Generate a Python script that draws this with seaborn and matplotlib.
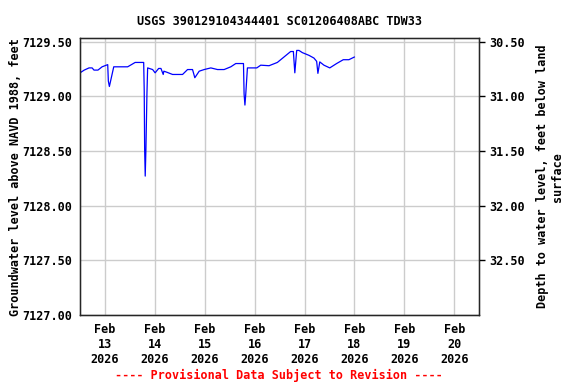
import pandas as pd
import matplotlib
matplotlib.use("Agg")
import matplotlib.pyplot as plt
import matplotlib.dates as mdates
import seaborn as sns

# Groundwater level readings, hours after 2026-02-13 00:00
hours = [-12.0, -10.0, -7.7, -6.2, -5.3, -3.4, -1.4, 1.3, 1.6, 2.1, 4.2,
         10.9, 14.5, 18.6, 18.86, 19.06, 19.34, 19.68, 20.16, 20.5,
         22.9, 24.1, 25.8, 26.9, 28.0, 28.3, 29.8, 32.5, 37.3, 39.7, 42.1,
         43.2, 45.3, 47.7, 50.9, 54.1, 57.3, 60.5, 62.9, 66.6, 66.9, 67.3,
         67.7, 68.5, 73.0, 74.9, 78.9, 82.9, 86.1, 89.3, 90.6, 91.3, 92.2,
         93.3, 94.9, 98.1, 100.5, 101.8, 102.4, 103.3, 105.3, 108.1, 111.4,
         114.6, 117.3, 120.0]
level = [7129.215, 7129.24, 7129.26, 7129.26, 7129.24, 7129.24, 7129.27,
         7129.29, 7129.14, 7129.09, 7129.27, 7129.27, 7129.31, 7129.31,
         7129.05, 7128.52, 7128.27, 7128.52, 7129.02, 7129.26,
         7129.245, 7129.215, 7129.255, 7129.255, 7129.20, 7129.23, 7129.22,
         7129.20, 7129.20, 7129.245, 7129.245, 7129.17, 7129.23, 7129.245,
         7129.26, 7129.245, 7129.245, 7129.27, 7129.30, 7129.30, 7129.02,
         7128.92, 7129.02, 7129.26, 7129.26, 7129.285, 7129.28, 7129.31,
         7129.36, 7129.41, 7129.41, 7129.215, 7129.42, 7129.42, 7129.40,
         7129.375, 7129.35, 7129.32, 7129.21, 7129.315, 7129.285, 7129.26,
         7129.30, 7129.335, 7129.335, 7129.36]

title = "USGS 390129104344401 SC01206408ABC TDW33"
land_surface = 7160.0  # elevation + depth

df = pd.DataFrame({
    "time": pd.Timestamp("2026-02-13") + pd.to_timedelta(hours, unit="h"),
    "level": level,
})

sns.set_style("white")
plt.rcParams["font.family"] = ["DejaVu Sans Mono"]
plt.rcParams["font.weight"] = "bold"
plt.rcParams["text.color"] = "black"
plt.rcParams["axes.labelcolor"] = "black"
plt.rcParams["xtick.color"] = "black"
plt.rcParams["ytick.color"] = "black"

fig = plt.figure(figsize=(5.76, 3.84), dpi=100)
ax = fig.add_axes([0.139, 0.18, 0.693, 0.72])

sns.lineplot(data=df, x="time", y="level", ax=ax, color="#0000ff", linewidth=0.9)

ax.set_xlim(pd.Timestamp("2026-02-12 12:00"), pd.Timestamp("2026-02-20 12:00"))
ax.set_ylim(7127.0, 7129.53)
ax.set_yticks([7127.0, 7127.5, 7128.0, 7128.5, 7129.0, 7129.5])
ax.yaxis.set_major_formatter(matplotlib.ticker.FormatStrFormatter("%.2f"))
ax.xaxis.set_major_locator(mdates.DayLocator())
ax.xaxis.set_major_formatter(mdates.DateFormatter("%b\n%d\n%Y"))
ax.grid(True, color="#cccccc", linewidth=1)
ax.tick_params(axis="both", length=0, labelsize=8.5, pad=6)
for lab in ax.get_xticklabels() + ax.get_yticklabels():
    lab.set_fontweight("bold")
for s in ax.spines.values():
    s.set_color("black")
    s.set_linewidth(1)

ax.set_xlabel("")
ax.set_ylabel("Groundwater level above NAVD 1988, feet", fontsize=8.5,
              fontweight="bold", labelpad=0)
ax.set_title(title, fontsize=8.5, fontweight="bold", pad=10)

# right axis: depth below land surface
ax2 = ax.twinx()
lo, hi = ax.get_ylim()
ax2.set_ylim(land_surface - lo, land_surface - hi)
ax2.set_yticks([30.5, 31.0, 31.5, 32.0, 32.5])
ax2.yaxis.set_major_formatter(matplotlib.ticker.FormatStrFormatter("%.2f"))
ax2.tick_params(axis="y", length=4, width=1, labelsize=8.5, pad=3)
for lab in ax2.get_yticklabels():
    lab.set_fontweight("bold")
ax2.set_ylabel("Depth to water level, feet below land\nsurface", fontsize=8.5,
               fontweight="bold", labelpad=8, rotation=90)

fig.text(0.484, 0.013, "---- Provisional Data Subject to Revision ----",
         color="red", fontsize=8.5, fontweight="bold", ha="center")

fig.savefig("out.png", dpi=100)
